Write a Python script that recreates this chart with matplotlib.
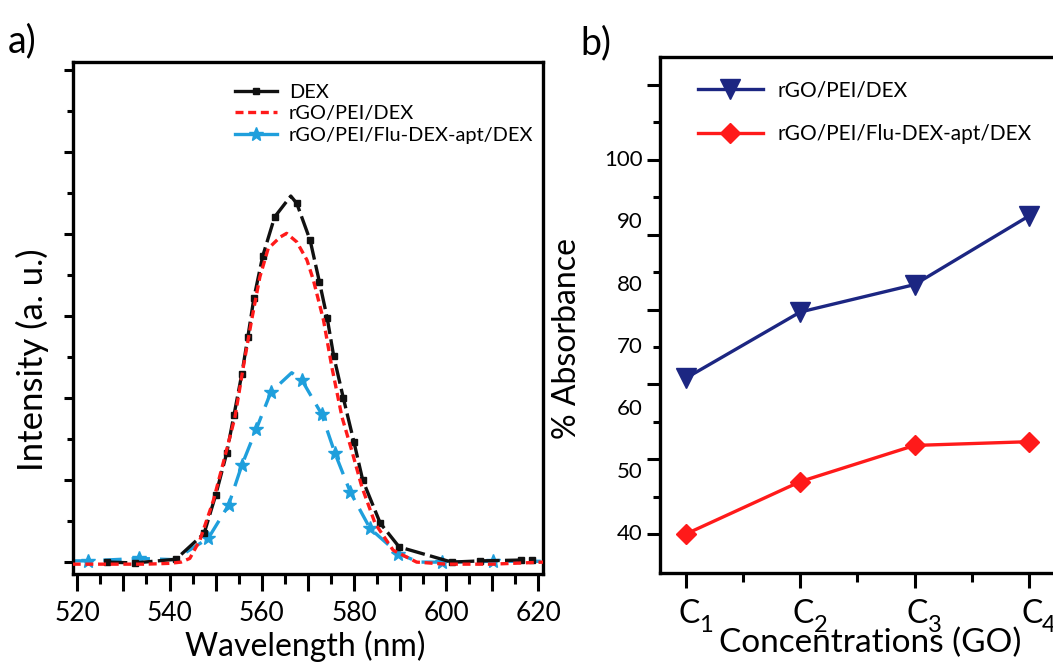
import matplotlib
matplotlib.use("Agg")
import matplotlib.pyplot as plt
import matplotlib.transforms as mtransforms
from matplotlib.lines import Line2D
from matplotlib.ticker import FixedLocator, FuncFormatter, MultipleLocator

plt.rcParams["font.family"] = ["Lato", "DejaVu Sans"]

# panel a: emission spectra
dex_wl = [526.5, 532.5, 541.4, 547.5, 550.0, 552.4, 554.0, 555.7, 557.0, 558.3,
          560.2, 562.8, 566.3, 567.6, 570.5, 572.5, 574.2, 575.6, 577.7, 580.0,
          581.9, 585.7, 589.8, 601.2, 607.4, 616.2, 618.7]
dex_int = [0.0, -0.02, 0.07, 0.7, 1.63, 2.66, 3.6, 4.6, 5.5, 6.44,
           7.46, 8.42, 8.93, 8.75, 7.85, 6.84, 5.95, 5.03, 4.0, 2.93,
           2.0, 0.95, 0.37, 0.0, 0.03, 0.05, 0.05]
dex_marks = [i for i in range(len(dex_wl)) if i != 12]

pei_wl = [519, 525, 530, 535, 540, 542.5, 544.4, 546.6, 549.5, 552.0, 554.2,
          556.0, 557.8, 559.6, 561.4, 564.0, 565.4, 567.6, 569.8, 571.2, 573.4,
          575.2, 577.4, 579.5, 581.7, 584.6, 588.5, 593.6, 600, 610, 621]
pei_int = [-0.05, -0.05, -0.05, -0.05, -0.03, 0.0, 0.09, 0.54, 1.5, 2.57, 3.54,
           4.76, 5.9, 6.96, 7.65, 7.93, 8.02, 7.81, 7.37, 6.88, 5.9,
           4.76, 3.54, 2.73, 1.84, 0.94, 0.29, 0.0, -0.05, -0.05, 0.0]

apt_wl = [519.5, 522.4, 533.4, 541.0, 548.4, 552.8, 555.7, 558.8, 562.0, 566.5,
          568.7, 573.0, 575.9, 579.2, 583.5, 589.6, 594.0, 599.0, 610.2, 620.5]
apt_int = [0.03, 0.03, 0.09, 0.06, 0.58, 1.39, 2.37, 3.24, 4.15, 4.62,
           4.44, 3.61, 2.65, 1.71, 0.82, 0.21, 0.0, 0.0, 0.02, 0.02]
apt_marks = [1, 2, 4, 5, 6, 7, 8, 10, 11, 12, 13, 14, 15, 17, 18]

# panel b: absorbance vs GO concentration
conc_pos = [1, 2, 3, 4]
conc_sub = ["1", "2", "3", "4"]
abs_pei = [65.0, 75.6, 80.0, 91.0]
abs_apt = [40.0, 48.4, 54.2, 54.8]
abs_tick_labels = [40, 50, 60, 70, 80, 90, 100]

BLACK = "#111111"
RED = "#ff1a1a"
CYAN = "#1f9fdc"
NAVY = "#1c2682"
PX = 0.72  # points per pixel at 100 dpi

fig = plt.figure(figsize=(10.53, 6.64), dpi=100)

# ---------------- panel a ----------------
ax = fig.add_axes([72.7 / 1053, 90 / 664, 470.3 / 1053, 512 / 664])
ax.plot(dex_wl, dex_int, color=BLACK, lw=2.4, ls=(0, (6, 1.6)), marker="s",
        ms=5, markevery=dex_marks, zorder=3)
ax.plot(pei_wl, pei_int, color=RED, lw=2.4, ls=(0, (2.4, 1.4)), zorder=4)
ax.plot(apt_wl, apt_int, color=CYAN, lw=2.4, ls=(0, (5.5, 3)), marker="*",
        ms=10, markevery=apt_marks, zorder=2)

ax.set_xlim(519, 621)
ax.set_ylim(-0.29, 12.2)
ax.xaxis.set_major_locator(MultipleLocator(10))
ax.xaxis.set_minor_locator(MultipleLocator(5))
ax.xaxis.set_major_formatter(FuncFormatter(lambda v, p: f"{v:.0f}" if round(v) % 20 == 0 else ""))
ax.yaxis.set_major_locator(MultipleLocator(2))
ax.yaxis.set_minor_locator(MultipleLocator(1))
ax.set_yticklabels([])
ax.tick_params(axis="x", which="major", direction="out", length=12, width=2.2,
               labelsize=19, pad=7.5)
ax.tick_params(axis="x", which="minor", direction="out", length=7, width=2.2)
ax.tick_params(axis="y", which="major", direction="out", length=6.5, width=2.2)
ax.tick_params(axis="y", which="minor", direction="out", length=4, width=2.2)
for s in ax.spines.values():
    s.set_linewidth(2.4)
ax.set_xlabel("Wavelength (nm)", fontsize=23)
ax.xaxis.set_label_coords(0.494, -0.111)
ax.set_ylabel("Intensity (a. u.)", fontsize=25)
ax.yaxis.set_label_coords(-0.05, 0.418)

handles_a = [
    Line2D([], [], color=BLACK, lw=2.4, marker="s", ms=5),
    Line2D([], [], color=RED, lw=2.4, ls=(0, (2.4, 1.4))),
    Line2D([], [], color=CYAN, lw=2.4, marker="*", ms=10),
]
ax.legend(handles_a, ["DEX", "rGO/PEI/DEX", "rGO/PEI/Flu-DEX-apt/DEX"],
          loc="upper left", bbox_to_anchor=(0.345, 0.957), frameon=False,
          fontsize=14.4, handlelength=2.1, handletextpad=0.6, labelspacing=0.22,
          borderpad=0, borderaxespad=0)

# ---------------- panel b ----------------
bx = fig.add_axes([660 / 1053, 91 / 664, 397.5 / 1053, 516 / 664])
bx.plot(conc_pos, abs_pei, color=NAVY, lw=2.4, marker="v", ms=14, zorder=3)
bx.plot(conc_pos, abs_apt, color=RED, lw=2.4, marker="D", ms=10, zorder=3)

bx.set_xlim(0.773, 4.25)
bx.set_ylim(33.74, 116.5)
bx.xaxis.set_major_locator(FixedLocator(conc_pos))
bx.xaxis.set_minor_locator(MultipleLocator(0.5))
bx.set_xticklabels([])
bx.yaxis.set_major_locator(MultipleLocator(12, offset=4))
bx.yaxis.set_minor_locator(FixedLocator([46, 58, 70, 82, 94, 106]))
bx.set_yticklabels([])
bx.tick_params(axis="x", which="major", direction="out", length=11, width=2.2)
bx.tick_params(axis="x", which="minor", direction="out", length=6.5, width=2.2)
bx.tick_params(axis="y", which="major", direction="out", length=9.5, width=2.2)
bx.tick_params(axis="y", which="minor", direction="out", length=5, width=2.2)
for s in bx.spines.values():
    s.set_linewidth(2.4)

ytrans = mtransforms.blended_transform_factory(bx.transAxes, bx.transData)
for v in abs_tick_labels:
    bx.annotate(str(v), xy=(0, v), xycoords=ytrans, xytext=(-17 * PX, 0),
                textcoords="offset points", ha="right", va="center", fontsize=16)

xtrans = mtransforms.blended_transform_factory(bx.transData, bx.transAxes)
for x, sub in zip(conc_pos, conc_sub):
    bx.annotate("C", xy=(x, 0), xycoords=xtrans, xytext=(3 * PX, -26 * PX),
                textcoords="offset points", ha="center", va="top", fontsize=23,
                annotation_clip=False)
    bx.annotate(sub, xy=(x, 0), xycoords=xtrans, xytext=(20 * PX, -42 * PX),
                textcoords="offset points", ha="center", va="top", fontsize=17,
                annotation_clip=False)

bx.set_xlabel("Concentrations (GO)", fontsize=24)
bx.xaxis.set_label_coords(0.530, -0.106)
bx.set_ylabel("% Absorbance", fontsize=23)
bx.yaxis.set_label_coords(-0.195, 0.455)

handles_b = [
    Line2D([], [], color=NAVY, lw=2.4, marker="v", ms=14),
    Line2D([], [], color=RED, lw=2.4, marker="D", ms=10),
]
bx.legend(handles_b, ["rGO/PEI/DEX", "rGO/PEI/Flu-DEX-apt/DEX"],
          loc="upper left", bbox_to_anchor=(0.0956, 0.955), frameon=False,
          fontsize=15, handlelength=3.1, handletextpad=0.7, labelspacing=1.15,
          borderpad=0, borderaxespad=0)

fig.text(8 / 1053, 1 - 52 / 664, "a)", fontsize=27, va="baseline")
fig.text(580 / 1053, 1 - 54 / 664, "b)", fontsize=27, va="baseline")

fig.savefig("out.png", dpi=100)
